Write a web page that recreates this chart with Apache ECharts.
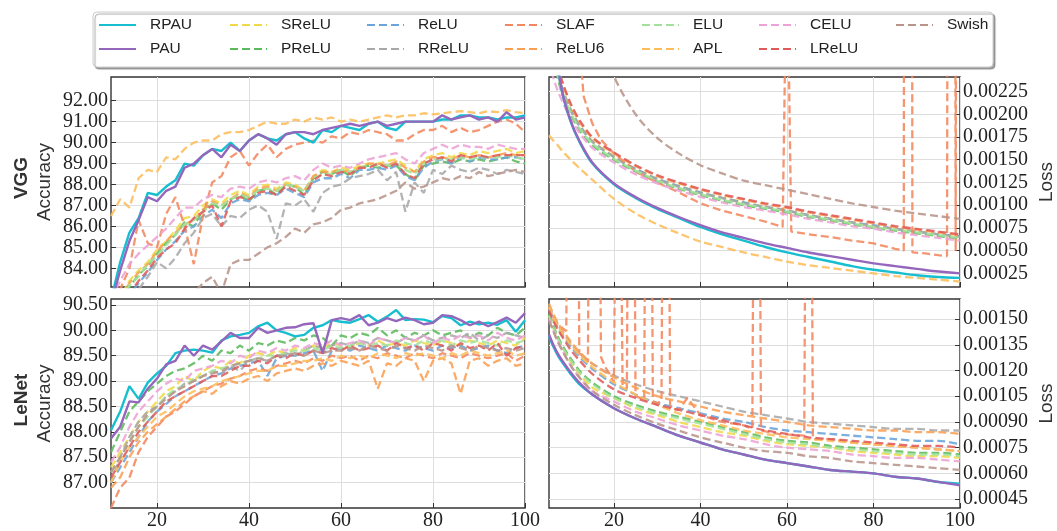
<!DOCTYPE html>
<html><head><meta charset="utf-8">
<script src="https://cdn.jsdelivr.net/npm/echarts@6/dist/echarts.min.js"></script>
<style>html,body{margin:0;padding:0;background:#fff}#c{width:1057px;height:531px}</style>
</head><body><div id="c"></div>
<script>
// ---------- DATA ----------
const seriesNames = ['RPAU','PAU','SReLU','PReLU','ReLU','RReLU','SLAF','ReLU6','ELU','APL','CELU','LReLU','Swish'];
const xTickValues = [20,40,60,80,100];
const vggAccTicks = [84,85,86,87,88,89,90,91,92];
const lenetAccTicks = [87,87.5,88,88.5,89,89.5,90,90.5];
const vggLossTicks = [0.00025,0.0005,0.00075,0.001,0.00125,0.0015,0.00175,0.002,0.00225];
const lenetLossTicks = [0.00045,0.0006,0.00075,0.0009,0.00105,0.0012,0.00135,0.0015];

const accEpochs = [10,12,14,16,18,20,22,24,26,28,30,32,34,36,38,40,42,44,46,48,50,52,54,56,58,60,62,64,66,68,70,72,74,76,78,80,82,84,86,88,90,92,94,96,98,100];

// VGG accuracy
const vggAccRPAU  = [82.5,84.3,85.7,86.4,87.6,87.5,87.9,88.2,89.0,88.9,89.4,89.7,89.6,90.0,89.6,90.1,90.4,90.2,90.1,90.4,90.5,90.2,90.0,90.6,90.5,90.8,90.7,90.6,90.9,91.0,90.7,90.6,91.0,91.0,91.0,91.0,91.1,91.1,91.3,91.3,91.2,91.2,91.1,91.2,91.2,91.3];
const vggAccPAU   = [82.3,83.9,85.3,86.3,87.4,87.2,87.7,87.9,88.8,89.0,89.4,89.7,89.3,89.9,89.6,90.1,90.4,90.2,89.9,90.4,90.5,90.5,90.4,90.6,90.7,90.8,90.9,90.8,90.9,91.0,90.8,90.9,91.0,91.0,91.0,91.0,91.3,91.1,91.2,91.3,91.1,91.2,91.0,91.45,91.1,91.2];
const vggAccSReLU = [81.8,82.6,83.4,83.9,84.3,84.9,85.3,85.8,86.4,86.5,87.0,87.3,87.1,87.5,87.7,87.5,87.9,88.0,87.8,88.1,88.0,87.7,88.4,88.7,88.6,88.8,88.7,88.9,89.0,89.0,89.1,89.2,88.9,88.6,89.2,89.4,89.5,89.3,89.5,89.4,89.6,89.5,89.6,89.7,89.5,89.6];
const vggAccPReLU = [81.3,82.2,83.1,83.7,84.1,84.7,85.2,85.6,86.2,86.0,86.8,87.1,86.8,87.3,87.5,87.2,87.7,87.8,87.5,88.0,87.9,87.5,88.3,88.6,88.5,88.7,88.4,88.8,88.9,88.8,88.9,88.9,88.5,88.2,88.9,89.0,89.1,89.0,89.2,89.1,89.2,89.1,89.2,89.3,89.1,89.0];
const vggAccReLU  = [81.0,81.9,82.7,83.3,83.8,84.4,84.9,85.3,85.8,86.0,86.5,86.8,86.4,87.1,87.3,87.2,87.5,87.6,87.5,87.8,87.6,87.4,88.1,88.3,88.3,88.5,88.3,88.7,88.7,88.8,88.7,88.9,88.4,88.2,88.8,89.1,89.2,89.0,89.3,89.1,89.3,89.2,89.2,89.3,89.3,89.2];
const vggAccRReLU = [80.5,81.5,82.4,83.0,83.6,84.3,84.0,84.5,85.2,85.7,86.4,86.6,86.0,86.5,86.4,86.8,87.0,86.7,85.4,87.1,87.0,87.3,86.7,87.6,87.9,88.0,88.3,88.4,88.5,88.7,88.2,88.6,86.7,88.1,87.6,88.7,88.5,88.9,88.7,88.6,88.8,88.7,88.5,88.7,88.6,88.5];
const vggAccSLAF  = [82.5,83.0,84.0,86.3,85.2,85.0,86.6,87.4,86.0,84.2,86.5,88.1,88.4,89.3,89.6,88.9,89.5,89.9,89.3,89.7,89.9,90.0,90.1,90.0,90.3,90.2,90.5,90.4,90.6,90.5,90.4,90.1,90.1,90.4,90.6,90.6,90.8,90.5,90.7,90.5,90.6,90.8,91.0,91.1,90.9,90.5];
const vggAccReLU6 = [81.6,82.5,83.3,83.8,84.2,84.8,85.3,85.7,86.1,86.3,86.8,87.2,87.0,87.3,87.6,87.4,87.8,87.9,87.7,88.0,87.9,87.7,88.4,88.6,88.6,88.7,88.6,88.8,89.0,89.0,88.9,89.1,88.8,88.6,89.1,89.3,89.3,89.2,89.4,89.3,89.4,89.3,89.4,89.5,89.4,89.4];
const vggAccELU   = [81.4,82.4,83.2,83.6,84.2,84.6,85.1,85.6,86.1,86.3,86.7,87.1,87.0,87.3,87.5,87.4,87.7,87.8,87.7,88.0,87.9,87.7,88.3,88.5,88.5,88.7,88.6,88.8,88.9,88.9,88.9,89.0,88.7,88.5,89.0,89.2,89.2,89.2,89.3,89.2,89.3,89.3,89.3,89.4,89.3,89.2];
const vggAccAPL   = [86.5,87.3,86.9,88.3,88.7,88.6,89.3,89.2,89.7,90.0,90.1,90.1,90.4,90.5,90.5,90.6,90.8,91.0,90.9,90.9,91.1,91.0,91.2,91.1,91.2,91.0,91.1,91.0,91.1,91.2,91.3,91.2,91.3,91.3,91.4,91.35,91.4,91.45,91.5,91.45,91.4,91.5,91.45,91.55,91.45,91.4];
const vggAccCELU  = [82.5,83.4,84.2,84.7,85.1,85.5,85.9,86.4,86.9,86.9,87.3,87.5,87.4,87.8,87.9,87.8,88.1,88.2,88.1,88.3,88.4,88.2,88.7,89.0,88.8,88.9,88.8,89.0,89.2,89.3,89.4,89.5,89.2,89.0,89.5,89.7,89.9,89.7,89.9,89.8,89.8,89.7,89.9,89.8,89.7,89.7];
const vggAccLReLU = [81.2,82.0,82.8,83.4,83.9,84.5,84.9,85.2,85.9,86.4,86.7,87.0,86.0,87.2,87.4,87.3,87.6,87.7,87.5,87.9,87.7,87.5,88.2,88.5,88.4,88.6,88.5,88.8,88.8,89.0,88.8,89.0,88.5,88.3,89.0,89.2,89.3,89.1,89.4,89.3,89.4,89.3,89.4,89.4,89.4,89.4];
const vggAccSwish = [79.0,79.5,80.0,80.5,81.0,81.4,81.8,82.1,82.4,82.8,83.3,83.6,82.8,84.2,84.4,84.4,84.7,85.0,85.2,85.5,85.9,85.7,86.1,86.2,86.4,86.8,86.9,87.1,87.2,87.3,87.5,87.7,88.1,87.8,87.9,88.1,88.3,88.2,88.4,88.3,88.6,88.4,88.5,88.6,88.7,88.6];

// LeNet accuracy
const lenetAccRPAU  = [88.03,88.4,88.9,88.65,88.97,89.15,89.3,89.55,89.6,89.62,89.6,89.56,89.8,89.88,89.91,89.95,90.08,90.15,90.0,89.95,89.88,89.91,90.05,90.1,90.2,90.17,90.15,90.22,90.3,90.17,90.27,90.4,90.2,90.22,90.21,90.16,90.28,90.24,90.1,90.17,90.12,90.15,90.11,90.2,89.97,90.2];
const lenetAccPAU   = [87.87,88.1,88.6,88.58,88.85,89.05,89.33,89.4,89.7,89.5,89.7,89.62,89.78,89.95,89.85,89.85,90.05,89.95,90.0,90.05,90.06,90.12,90.14,89.55,90.2,90.24,90.2,90.3,90.1,90.15,90.24,90.18,90.25,90.2,90.12,90.15,90.3,90.28,90.2,90.1,90.17,90.08,90.16,90.25,90.15,90.34];
const lenetAccSReLU = [87.3,87.6,87.9,88.2,88.4,88.6,88.8,88.9,89.1,89.0,89.2,89.3,89.25,89.4,89.35,89.5,89.55,89.5,89.6,89.55,89.65,89.6,89.7,89.65,89.75,89.7,89.65,89.75,89.7,89.8,89.7,89.75,89.7,89.8,89.75,89.7,89.8,89.75,89.7,89.8,89.75,89.7,89.8,89.75,89.7,89.85];
const lenetAccPReLU = [87.6,88.0,88.4,88.6,88.8,88.95,89.1,89.2,89.25,89.35,89.5,89.4,89.6,89.55,89.7,89.6,89.75,89.7,89.8,89.75,89.85,89.8,89.9,89.85,89.7,89.9,89.85,89.95,89.9,90.05,89.9,90.0,89.85,89.95,89.9,90.0,89.9,89.95,90.0,89.85,89.95,89.9,90.05,89.95,89.9,90.05];
const lenetAccReLU  = [87.0,87.3,87.6,87.9,88.2,88.4,88.55,88.7,88.8,88.9,89.0,89.1,89.15,89.25,89.3,89.35,89.4,89.1,89.45,89.5,89.5,89.55,89.6,89.2,89.6,89.65,89.6,89.7,89.65,89.6,89.7,89.65,89.6,89.7,89.65,89.6,89.7,89.65,89.7,89.6,89.65,89.7,89.6,89.55,89.65,89.7];
const lenetAccRReLU = [87.0,87.5,87.9,88.2,88.4,88.5,88.7,88.8,88.95,89.0,89.1,89.2,89.15,89.3,89.2,89.4,89.45,89.4,89.5,89.55,89.5,89.6,89.7,89.65,89.7,89.75,89.7,89.8,89.75,89.85,89.8,89.75,89.85,89.8,89.9,89.8,89.85,89.9,89.85,89.95,89.8,89.9,89.85,89.95,89.9,89.85];
const lenetAccSLAF  = [86.5,86.9,87.1,87.6,87.9,88.1,88.3,88.4,88.55,88.7,88.8,88.9,88.95,89.05,89.1,89.2,89.25,89.2,89.3,89.35,89.4,89.35,89.45,89.4,89.5,89.45,89.5,89.4,89.5,89.45,89.55,89.5,89.45,89.55,89.5,89.45,89.55,89.5,89.45,89.55,89.5,89.45,89.5,89.55,89.4,89.5];
const lenetAccReLU6 = [86.9,87.1,87.5,87.8,88.0,88.15,88.3,88.45,88.6,88.7,88.8,88.75,88.9,89.0,88.95,89.05,89.1,89.0,89.15,89.2,89.25,89.2,89.3,89.35,89.3,89.4,89.35,89.3,89.4,88.85,89.35,89.3,89.45,89.4,89.0,89.4,89.45,89.35,88.75,89.4,89.45,89.3,89.4,89.45,89.3,89.35];
const lenetAccELU   = [87.2,87.5,87.8,88.1,88.3,88.5,88.7,88.85,88.9,89.05,89.1,89.2,89.25,89.3,89.35,89.4,89.45,89.5,89.5,89.55,89.6,89.6,89.65,89.6,89.7,89.65,89.7,89.75,89.7,89.75,89.7,89.8,89.75,89.7,89.8,89.75,89.8,89.7,89.8,89.75,89.8,89.75,89.7,89.8,89.75,89.8];
const lenetAccAPL   = [87.0,87.4,87.7,87.9,88.1,88.3,88.4,88.55,88.7,88.8,88.85,88.9,89.0,89.05,89.1,89.15,89.2,89.2,89.3,89.3,89.35,89.4,89.4,89.45,89.4,89.5,89.45,89.5,89.45,89.55,89.5,89.45,89.55,89.5,89.55,89.5,89.45,89.55,89.5,89.6,89.55,89.5,89.55,89.6,89.5,89.55];
const lenetAccCELU  = [87.4,87.7,88.1,88.4,88.6,88.8,88.95,89.05,89.0,89.2,89.25,89.3,89.4,89.35,89.5,89.45,89.6,89.55,89.65,89.6,89.7,89.65,89.75,89.7,89.8,89.7,89.75,89.8,89.7,89.85,89.8,89.75,89.85,89.8,89.9,89.75,89.85,89.8,89.9,89.85,89.9,89.8,89.95,89.85,89.8,89.9];
const lenetAccLReLU = [87.1,87.4,87.7,88.0,88.2,88.4,88.6,88.7,88.8,88.9,89.0,89.1,89.1,89.2,89.3,89.3,89.4,89.35,89.5,89.45,89.55,89.5,89.6,89.55,89.65,89.6,89.7,89.6,89.65,89.7,89.6,89.75,89.65,89.7,89.6,89.75,89.7,89.6,89.75,89.65,89.7,89.6,89.75,89.5,89.65,89.7];
const lenetAccSwish = [87.2,87.5,87.8,88.1,88.35,88.5,88.65,88.8,88.9,89.0,89.1,89.15,89.2,89.3,89.35,89.4,89.45,89.4,89.5,89.5,89.55,89.5,89.6,89.55,89.6,89.6,89.65,89.6,89.7,89.65,89.6,89.7,89.65,89.6,89.7,89.65,89.6,89.7,89.65,89.6,89.7,89.65,89.6,89.65,89.6,89.65];

const lossEpochs = [5,6,7,8,10,12,15,20,25,30,35,40,45,50,55,60,65,70,75,80,85,90,95,100];

// VGG loss
const vggLossRPAU  = [0.0045,0.0033,0.0026,0.00225,0.00192,0.0017,0.00146,0.00123,0.00108,0.00096,0.00086,0.00076,0.00068,0.00061,0.00054,0.00048,0.00043,0.00038,0.00033,0.00029,0.00026,0.00023,0.00021,0.0002];
const vggLossPAU   = [0.0045,0.0033,0.0026,0.00226,0.00193,0.00171,0.00147,0.00124,0.00109,0.00097,0.00087,0.00078,0.0007,0.00064,0.00058,0.00053,0.00048,0.00044,0.0004,0.00036,0.00033,0.0003,0.00027,0.00025];
const vggLossSReLU = [0.0031,0.0027,0.00248,0.0023,0.00206,0.00189,0.00171,0.00154,0.0014,0.00129,0.00121,0.00114,0.00108,0.00103,0.00098,0.00094,0.00089,0.00085,0.00081,0.00077,0.00074,0.00071,0.00068,0.00065];
const vggLossPReLU = [0.003,0.0026,0.0024,0.00223,0.002,0.00183,0.00166,0.0015,0.00137,0.00126,0.00118,0.00111,0.00105,0.001,0.00096,0.00092,0.00087,0.00083,0.00079,0.00075,0.00072,0.00069,0.00066,0.00063];
const vggLossReLU  = [0.0031,0.0027,0.00247,0.00229,0.00205,0.00188,0.0017,0.00153,0.0014,0.00129,0.00121,0.00114,0.00108,0.00103,0.00098,0.00094,0.00089,0.00085,0.00081,0.00078,0.00074,0.00071,0.00068,0.00066];
const vggLossRReLU = [0.0031,0.0027,0.00246,0.00228,0.00204,0.00187,0.0017,0.00153,0.00139,0.00128,0.0012,0.00113,0.00108,0.00102,0.00098,0.00094,0.00089,0.00085,0.00081,0.00077,0.00074,0.00071,0.00068,0.00065];
const vggLossReLU6 = [0.0032,0.0028,0.00254,0.00236,0.0021,0.00192,0.00174,0.00157,0.00143,0.00132,0.00124,0.00117,0.00111,0.00106,0.00101,0.00097,0.00092,0.00088,0.00084,0.0008,0.00076,0.00073,0.0007,0.00067];
const vggLossELU   = [0.003,0.0027,0.00244,0.00226,0.00202,0.00185,0.00168,0.00151,0.00138,0.00127,0.00119,0.00112,0.00106,0.00101,0.00097,0.00093,0.00088,0.00084,0.0008,0.00076,0.00073,0.0007,0.00067,0.00064];
const vggLossAPL   = [0.00177,0.00171,0.00166,0.0016,0.0015,0.00141,0.00128,0.00107,0.00091,0.00079,0.00069,0.0006,0.00054,0.00048,0.00043,0.00038,0.00034,0.00031,0.00028,0.00025,0.00022,0.0002,0.00018,0.00016];
const vggLossCELU  = [0.0026,0.0024,0.00226,0.00215,0.00195,0.0018,0.00163,0.00147,0.00134,0.00124,0.00116,0.00109,0.00103,0.00098,0.00094,0.0009,0.00085,0.00081,0.00077,0.00074,0.0007,0.00067,0.00064,0.00061];
const vggLossLReLU = [0.0032,0.0028,0.00255,0.00237,0.00212,0.00194,0.00175,0.00158,0.00144,0.00133,0.00125,0.00118,0.00112,0.00107,0.00102,0.00098,0.00093,0.00089,0.00085,0.00081,0.00077,0.00074,0.00071,0.00068];
const vggLossSwish = [0.006,0.0055,0.005,0.0046,0.0042,0.0037,0.0031,0.00242,0.002,0.00174,0.00157,0.00144,0.00135,0.00127,0.00122,0.00117,0.00112,0.00107,0.00102,0.00098,0.00094,0.00091,0.00088,0.00085];
const vggLossSLAFEpochs = [5,8,10,12,13,15,17,20,25,30,35,40,45,50,55,59,60,61,65,70,75,80,85,87,88,89,92,95,97,98,99,100];
const vggLossSLAF = [0.008,0.006,0.0045,0.0028,0.0022,0.0019,0.00172,0.00157,0.00137,0.00125,0.00114,0.00102,0.00094,0.00088,0.00082,0.00076,0.004,0.00071,0.00068,0.00065,0.00061,0.00058,0.00052,0.0005,0.05,0.00048,0.00047,0.00045,0.00044,0.03,0.0005,0.03];

// LeNet loss
const lenetLossRPAU  = [0.0014,0.00134,0.00129,0.00125,0.00118,0.00112,0.00106,0.00098,0.00092,0.00087,0.00082,0.00078,0.00074,0.00071,0.00068,0.00066,0.00064,0.00062,0.00061,0.0006,0.00058,0.00057,0.00055,0.00054];
const lenetLossPAU   = [0.00141,0.00135,0.0013,0.00126,0.00119,0.00113,0.00106,0.00098,0.00092,0.00087,0.00082,0.00078,0.00074,0.00071,0.00068,0.00066,0.00064,0.00062,0.00061,0.0006,0.00058,0.00057,0.00055,0.00053];
const lenetLossSReLU = [0.00152,0.00145,0.00139,0.00134,0.00125,0.00118,0.0011,0.00104,0.00098,0.00094,0.0009,0.00087,0.00084,0.00082,0.00079,0.00077,0.00076,0.00075,0.00073,0.00072,0.00071,0.0007,0.0007,0.00069];
const lenetLossPReLU = [0.00153,0.00146,0.0014,0.00135,0.00127,0.0012,0.00113,0.00105,0.001,0.00096,0.00093,0.0009,0.00087,0.00084,0.00081,0.00079,0.00078,0.00076,0.00075,0.00074,0.00073,0.00072,0.00072,0.00071];
const lenetLossReLU  = [0.00156,0.0015,0.00145,0.00141,0.00134,0.00128,0.00121,0.00112,0.00106,0.00101,0.00098,0.00095,0.00092,0.0009,0.00087,0.00085,0.00084,0.00083,0.00082,0.00081,0.0008,0.00079,0.00079,0.00077];
const lenetLossRReLU = [0.00158,0.00152,0.00147,0.00143,0.00136,0.0013,0.00124,0.00117,0.00112,0.00108,0.00105,0.00102,0.00099,0.00096,0.00094,0.00092,0.0009,0.00089,0.00088,0.00087,0.00086,0.00086,0.00085,0.00085];
const lenetLossReLU6 = [0.00159,0.00153,0.00148,0.00144,0.00137,0.00131,0.00124,0.00116,0.0011,0.00105,0.00102,0.00099,0.00096,0.00094,0.00092,0.0009,0.00088,0.00087,0.00086,0.00085,0.00085,0.00084,0.00084,0.00083];
const lenetLossELU   = [0.00152,0.00145,0.00139,0.00134,0.00126,0.00119,0.00112,0.00104,0.00099,0.00095,0.00092,0.00089,0.00086,0.00083,0.0008,0.00078,0.00077,0.00075,0.00074,0.00073,0.00072,0.00071,0.00071,0.0007];
const lenetLossAPL   = [0.00157,0.00151,0.00146,0.00142,0.00135,0.00129,0.00122,0.00113,0.00106,0.001,0.00095,0.00091,0.00088,0.00085,0.00083,0.00081,0.0008,0.00079,0.00078,0.00077,0.00076,0.00075,0.00074,0.00073];
const lenetLossCELU  = [0.0015,0.00143,0.00137,0.00132,0.00123,0.00116,0.00108,0.00102,0.00096,0.00092,0.00088,0.00085,0.00082,0.0008,0.00077,0.00075,0.00074,0.00073,0.00071,0.0007,0.00069,0.00069,0.00068,0.00067];
const lenetLossLReLU = [0.00155,0.00149,0.00144,0.0014,0.00132,0.00126,0.00118,0.00109,0.00104,0.001,0.00097,0.00094,0.00091,0.00088,0.00085,0.00083,0.00081,0.0008,0.00079,0.00078,0.00077,0.00076,0.00076,0.00075];
const lenetLossSwish = [0.00149,0.00143,0.00137,0.00132,0.00123,0.00116,0.00108,0.001,0.00094,0.00089,0.00085,0.00081,0.00078,0.00075,0.00073,0.00072,0.0007,0.00069,0.00067,0.00066,0.00065,0.00064,0.00063,0.00062];
const lenetLossSLAFEpochs = [5,6,7,8,9,10,11,12,13,14,15,16,17,18,19,20,21,22,23,24,25,26,27,28,29,30,31,32,33,35,37,40,45,50,52,53,54,58,64,65,66,70,75,80,85,90,95,100];
const lenetLossSLAF = [0.00157,0.0015,0.00147,0.00145,0.00143,0.006,0.006,0.0013,0.00128,0.00125,0.006,0.006,0.00128,0.00122,0.00118,0.00113,0.004,0.00111,0.00109,0.006,0.00105,0.00104,0.00103,0.006,0.00102,0.00101,0.00102,0.006,0.00098,0.00097,0.00104,0.00094,0.0009,0.00088,0.00086,0.006,0.00085,0.00083,0.00082,0.006,0.0008,0.0008,0.00078,0.00077,0.00076,0.00075,0.00074,0.00073];

// ---------- STYLE ----------
const colorOf = {RPAU:'#17becf',PAU:'#9467bd',SReLU:'#f0da48',PReLU:'#5cba5c',ReLU:'#6aa4d8',RReLU:'#a8a8a8',
  SLAF:'#f4875f',ReLU6:'#fb9e52',ELU:'#a3e29b',APL:'#fdbd5a',CELU:'#eda2d5',LReLU:'#df5b5b',Swish:'#b8948a'};

const vggAcc = {RPAU:vggAccRPAU,PAU:vggAccPAU,SReLU:vggAccSReLU,PReLU:vggAccPReLU,ReLU:vggAccReLU,RReLU:vggAccRReLU,SLAF:vggAccSLAF,ReLU6:vggAccReLU6,ELU:vggAccELU,APL:vggAccAPL,CELU:vggAccCELU,LReLU:vggAccLReLU,Swish:vggAccSwish};
const lenetAcc = {RPAU:lenetAccRPAU,PAU:lenetAccPAU,SReLU:lenetAccSReLU,PReLU:lenetAccPReLU,ReLU:lenetAccReLU,RReLU:lenetAccRReLU,SLAF:lenetAccSLAF,ReLU6:lenetAccReLU6,ELU:lenetAccELU,APL:lenetAccAPL,CELU:lenetAccCELU,LReLU:lenetAccLReLU,Swish:lenetAccSwish};
const vggLoss = {RPAU:vggLossRPAU,PAU:vggLossPAU,SReLU:vggLossSReLU,PReLU:vggLossPReLU,ReLU:vggLossReLU,RReLU:vggLossRReLU,SLAF:vggLossSLAF,ReLU6:vggLossReLU6,ELU:vggLossELU,APL:vggLossAPL,CELU:vggLossCELU,LReLU:vggLossLReLU,Swish:vggLossSwish};
const lenetLoss = {RPAU:lenetLossRPAU,PAU:lenetLossPAU,SReLU:lenetLossSReLU,PReLU:lenetLossPReLU,ReLU:lenetLossReLU,RReLU:lenetLossRReLU,SLAF:lenetLossSLAF,ReLU6:lenetLossReLU6,ELU:lenetLossELU,APL:lenetLossAPL,CELU:lenetLossCELU,LReLU:lenetLossLReLU,Swish:lenetLossSwish};

const pairs = (xs, ys) => xs.map((x, i) => [x, ys[i]]);
const SERIF = 'Liberation Serif', SANS = 'Liberation Sans';

function lineSeries(name, idx, data, smooth) {
  const solid = (name === 'RPAU' || name === 'PAU');
  return {
    type: 'line', name, xAxisIndex: idx, yAxisIndex: idx, data,
    symbol: 'none', showSymbol: false, smooth: smooth ? 0.3 : false, clip: true,
    color: colorOf[name],
    lineStyle: { color: colorOf[name], width: solid ? 2.4 : 2.3, type: solid ? 'solid' : [8, 4], opacity: solid ? 1 : 0.88 },
    emphasis: { disabled: true }, z: solid ? 3 : 2
  };
}

const series = [];
seriesNames.forEach(n => series.push(lineSeries(n, 0, pairs(accEpochs, vggAcc[n]), false)));
seriesNames.forEach(n => series.push(lineSeries(n, 1,
  n === 'SLAF' ? pairs(vggLossSLAFEpochs, vggLoss[n]) : pairs(lossEpochs, vggLoss[n]), n !== 'SLAF')));
seriesNames.forEach(n => series.push(lineSeries(n, 2, pairs(accEpochs, lenetAcc[n]), false)));
seriesNames.forEach(n => series.push(lineSeries(n, 3,
  n === 'SLAF' ? pairs(lenetLossSLAFEpochs, lenetLoss[n]) : pairs(lossEpochs, lenetLoss[n]), n !== 'SLAF')));

const grids = [
  { left: 111, top: 77, width: 414, height: 210 },
  { left: 549, top: 77, width: 414, height: 210 },
  { left: 111, top: 299, width: 414, height: 211 },
  { left: 549, top: 299, width: 414, height: 211 }
].map(g => Object.assign(g, { show: true, borderColor: '#333', borderWidth: 1.4, backgroundColor: 'transparent' }));

function xAx(idx, min, showLabels) {
  return {
    type: 'value', gridIndex: idx, min, max: 100,
    axisLine: { show: false },
    axisTick: { show: true, inside: true, length: 5, customValues: xTickValues, lineStyle: { color: '#333' } },
    axisLabel: { show: showLabels, customValues: xTickValues, margin: 3, fontFamily: SERIF, fontSize: 20, color: '#222' },
    splitLine: { show: true, lineStyle: { color: '#dedede', width: 1 } }
  };
}
function yAx(idx, min, max, ticks, pos, name, gap, digits) {
  return {
    type: 'value', gridIndex: idx, min, max, position: pos,
    name, nameLocation: 'middle', nameGap: gap, nameRotate: 90,
    nameTextStyle: { fontFamily: SANS, fontSize: 19, color: '#333' },
    axisLine: { show: false },
    axisTick: { show: true, inside: true, length: 5, customValues: ticks, lineStyle: { color: '#333' } },
    axisLabel: { customValues: ticks, margin: 3, fontFamily: SERIF, fontSize: 20, color: '#222',
      formatter: v => Number(v).toFixed(digits) },
    splitLine: { show: true, lineStyle: { color: '#dedede', width: 1 } }
  };
}

const legendCols = [98, 229, 366, 504, 641, 758, 895];
const legendRows = [17, 41];
const legends = seriesNames.map((n, i) => ({
  data: [n], left: legendCols[Math.floor(i / 2)], top: legendRows[i % 2],
  orient: 'horizontal', padding: 0, itemWidth: 37, itemHeight: 15, selectedMode: false,
  itemStyle: { opacity: 0 },
  lineStyle: { opacity: 1 },
  textStyle: { fontFamily: SANS, fontSize: 15.5, color: '#222', padding: [0, 0, 0, 9] }
}));

const chart = echarts.init(document.getElementById('c'), null, { renderer: 'canvas' });
chart.setOption({
  animation: false,
  backgroundColor: '#fff',
  grid: grids,
  xAxis: [xAx(0, 10, false), xAx(1, 5, false), xAx(2, 10, true), xAx(3, 5, true)],
  yAxis: [
    yAx(0, 83.11, 93.13, vggAccTicks, 'left', 'Accuracy', 57, 2),
    yAx(1, 0.0001, 0.00241, vggLossTicks, 'right', 'Loss', 77, 5),
    yAx(2, 86.5, 90.617, lenetAccTicks, 'left', 'Accuracy', 57, 2),
    yAx(3, 0.000398, 0.001617, lenetLossTicks, 'right', 'Loss', 77, 5)
  ],
  legend: legends,
  graphic: [
    { type: 'rect', z: -1, shape: { x: 93, y: 12, width: 900, height: 55, r: 4 },
      style: { fill: '#fff', stroke: '#cccccc', lineWidth: 1, shadowColor: 'rgba(0,0,0,0.35)', shadowOffsetX: 2, shadowOffsetY: 2, shadowBlur: 1 } },
    { type: 'text', x: 22, y: 178, rotation: Math.PI / 2,
      style: { text: 'VGG', font: 'bold 19px "Liberation Sans"', fill: '#333', align: 'center', verticalAlign: 'middle', textAlign: 'center', textVerticalAlign: 'middle' } },
    { type: 'text', x: 22, y: 400, rotation: Math.PI / 2,
      style: { text: 'LeNet', font: 'bold 19px "Liberation Sans"', fill: '#333', align: 'center', verticalAlign: 'middle', textAlign: 'center', textVerticalAlign: 'middle' } }
  ],
  series
});
</script></body></html>
